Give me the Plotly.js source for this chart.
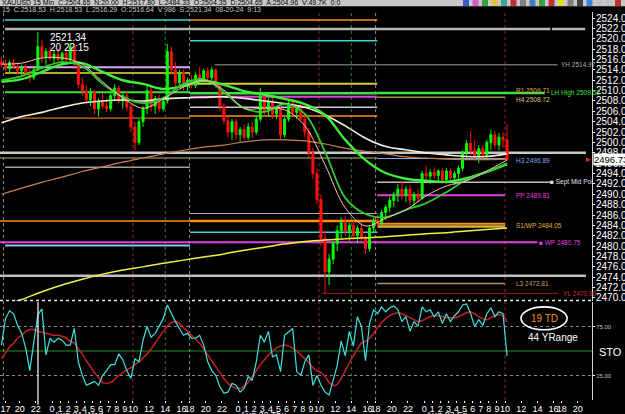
<!DOCTYPE html>
<html><head><meta charset="utf-8">
<script src="https://cdn.plot.ly/plotly-3.0.1.min.js"></script>
<style>html,body{margin:0;padding:0;background:#000;}#chart{width:625px;height:414px;}</style>
</head><body><div id="chart"></div>
<script>
// ---------------- DATA ----------------
// 30-minute bars; time axis in trading hours relative to Aug 21 00:00 (17:00 break skipped)
const firstBarHour = -6.25;
const barHours = 0.5;

const open = [2515.5,2515.0,2514.2,2515.4,2514.6,2513.8,2514.5,2513.4,2512.5,2514.0,
2518.5,2516.5,2517.6,2516.2,2517.0,2516.0,2517.2,2516.0,2518.5,2515.0,
2511.2,2510.0,2508.2,2509.8,2506.5,2508.0,2507.0,2506.5,2509.0,2510.5,
2508.0,2509.0,2506.8,2503.0,2500.0,2504.0,2506.5,2510.0,2507.0,2508.5,
2506.5,2508.0,2517.5,2514.0,2511.5,2513.5,2510.8,2512.0,2511.0,2513.0,
2512.0,2513.8,2512.5,2514.0,2511.0,2507.0,2504.2,2502.0,2504.0,2501.5,
2502.5,2501.0,2503.0,2502.0,2504.5,2509.0,2506.0,2508.0,2505.5,2506.5,
2501.5,2504.5,2507.5,2505.8,2506.5,2504.5,2502.0,2498.0,2494.0,2489.0,
2481.5,2475.0,2477.5,2480.5,2483.0,2484.5,2482.8,2484.0,2482.0,2483.5,
2481.5,2479.5,2483.5,2485.0,2484.5,2486.5,2487.5,2488.8,2490.0,2491.0,
2489.8,2491.0,2488.8,2490.0,2489.2,2494.0,2493.5,2494.2,2493.6,2494.5,
2492.8,2494.5,2493.2,2494.0,2495.0,2498.0,2499.8,2498.5,2497.2,2498.8,
2497.5,2500.0,2501.5,2499.5,2501.0,2500.5];
const high = [2516.5,2516.0,2515.8,2516.2,2515.5,2515.0,2515.2,2514.2,2514.5,2521.3,
2519.8,2518.2,2518.5,2517.8,2518.0,2517.5,2518.0,2519.2,2519.0,2515.5,
2512.5,2511.0,2510.5,2510.2,2508.5,2509.5,2508.5,2509.5,2511.2,2511.0,
2509.5,2510.0,2507.5,2504.0,2504.5,2507.0,2511.0,2511.0,2509.0,2509.2,
2508.5,2519.0,2518.5,2515.5,2514.0,2514.0,2512.5,2513.0,2513.5,2514.5,
2514.2,2514.5,2514.6,2514.3,2511.5,2507.5,2505.0,2504.5,2504.5,2503.0,
2503.5,2503.8,2504.0,2505.0,2510.5,2509.5,2508.5,2508.8,2507.0,2507.0,
2505.0,2508.0,2508.2,2507.0,2507.5,2505.5,2502.8,2499.0,2495.0,2490.0,
2483.0,2478.5,2481.0,2484.0,2485.5,2485.8,2484.5,2484.8,2484.0,2484.5,
2482.0,2484.0,2485.5,2486.0,2487.0,2488.0,2489.5,2490.5,2492.0,2492.5,
2491.5,2491.8,2490.5,2491.0,2494.5,2495.5,2494.8,2495.2,2494.8,2495.0,
2495.0,2495.0,2494.5,2495.5,2498.5,2500.5,2502.2,2500.5,2499.5,2499.5,
2500.5,2502.5,2502.2,2501.8,2502.0,2503.5];
const low = [2514.5,2513.8,2513.5,2514.2,2513.2,2512.8,2513.0,2511.6,2512.0,2513.8,
2515.5,2515.0,2515.8,2515.2,2515.6,2514.8,2515.5,2515.6,2514.5,2510.5,
2509.0,2507.5,2507.0,2505.5,2505.0,2506.5,2505.8,2506.0,2508.0,2507.5,
2506.5,2506.0,2502.0,2498.5,2499.5,2503.0,2505.5,2506.0,2505.5,2505.8,
2506.0,2507.5,2513.0,2510.5,2511.0,2510.0,2509.8,2510.5,2510.5,2511.5,
2511.5,2512.0,2512.0,2510.5,2506.0,2503.5,2501.0,2500.5,2500.5,2500.2,
2500.5,2500.5,2500.8,2501.5,2504.0,2505.0,2505.0,2504.5,2504.5,2500.5,
2501.0,2504.0,2505.0,2504.5,2504.0,2501.0,2497.0,2493.0,2488.0,2480.0,
2470.9,2472.5,2476.5,2479.0,2481.5,2482.0,2481.0,2481.2,2480.5,2481.0,
2478.5,2479.0,2482.5,2483.5,2484.0,2485.0,2486.5,2487.5,2488.5,2489.0,
2488.5,2488.0,2487.5,2488.5,2489.0,2492.5,2492.0,2493.0,2492.5,2492.0,
2492.0,2492.5,2491.8,2493.0,2494.5,2497.0,2497.5,2496.5,2496.0,2496.5,
2497.0,2498.5,2498.8,2498.5,2499.0,2496.5];
const close = [2515.0,2514.2,2515.4,2514.6,2513.8,2514.5,2513.4,2512.5,2514.0,2518.5,
2516.5,2517.6,2516.2,2517.0,2516.0,2517.2,2516.0,2518.5,2515.0,2511.2,
2510.0,2508.2,2509.8,2506.5,2508.0,2507.0,2506.5,2509.0,2510.5,2508.0,
2509.0,2506.8,2503.0,2500.0,2504.0,2506.5,2510.0,2507.0,2508.5,2506.5,
2508.0,2517.5,2514.0,2511.5,2513.5,2510.8,2512.0,2511.0,2513.0,2512.0,
2513.8,2512.5,2514.0,2511.0,2507.0,2504.2,2502.0,2504.0,2501.5,2502.5,
2501.0,2503.0,2502.0,2504.5,2509.0,2506.0,2508.0,2505.5,2506.5,2501.5,
2504.5,2507.5,2505.8,2506.5,2504.5,2502.0,2498.0,2494.0,2489.0,2481.5,
2475.0,2477.5,2480.5,2483.0,2484.5,2482.8,2484.0,2482.0,2483.5,2481.5,
2479.5,2483.5,2485.0,2484.5,2486.5,2487.5,2488.8,2490.0,2491.0,2489.8,
2491.0,2488.8,2490.0,2489.2,2494.0,2493.5,2494.2,2493.6,2494.5,2492.8,
2494.5,2493.2,2494.0,2495.0,2498.0,2499.8,2498.5,2497.2,2498.8,2497.5,
2500.0,2501.5,2499.5,2501.0,2500.5,2496.73];

// moving averages sampled every 5 bars
const maBar = [0,5,10,15,20,25,30,35,40,45,50,55,60,65,70,75,80,85,90,95,100,105,110,115,120,125];
const maWhite = [2503.8,2505.0,2505.8,2506.8,2507.6,2508.0,2508.2,2508.0,2508.4,2508.6,2508.7,2508.8,2508.5,2508.0,2507.5,2506.8,2505.3,2503.2,2500.8,2499.2,2498.6,2498.0,2497.6,2497.3,2497.3,2497.8];
const maOrange = [2490.0,2491.2,2492.3,2493.3,2494.4,2495.3,2496.2,2497.0,2497.8,2498.5,2499.1,2499.5,2500.1,2500.5,2500.5,2500.3,2499.7,2498.9,2498.3,2497.8,2497.2,2497.0,2496.8,2496.7,2496.7,2496.8];
const maYellow = [2468.5,2469.7,2471.2,2472.5,2473.6,2474.6,2475.4,2476.0,2476.7,2477.3,2477.9,2478.5,2479.2,2479.8,2480.4,2480.9,2481.2,2481.4,2481.6,2481.8,2482.1,2482.4,2482.6,2482.9,2483.2,2483.5];
const maGreenSlow = [2511.7,2512.2,2513.6,2515.1,2515.3,2513.6,2512.0,2511.3,2510.3,2510.9,2511.9,2511.1,2509.9,2509.2,2508.4,2507.4,2505.3,2500.5,2496.6,2494.1,2493.0,2492.6,2492.4,2493.1,2494.3,2495.8];
const maGreenFast = [2512.0,2512.8,2514.4,2515.5,2514.7,2511.3,2508.8,2507.6,2508.6,2511.3,2512.2,2509.7,2506.6,2505.9,2507.4,2505.5,2498.2,2489.3,2486.2,2485.6,2487.0,2488.3,2490.4,2492.8,2494.3,2496.0];
const maPink = [2515.1,2515.3,2516.3,2516.3,2515.1,2511.7,2508.6,2506.6,2508.4,2510.7,2512.0,2510.1,2506.6,2506.6,2506.3,2503.2,2495.7,2487.4,2483.9,2485.4,2487.0,2489.7,2491.6,2492.6,2494.5,2496.6];

// stochastic (one value per bar)
const stochK = [56,83,91,88,76,68,53,30,59,87,
93,46,63,59,63,61,56,56,73,39,
25,15,17,19,15,25,30,36,36,47,
41,30,22,42,39,61,75,64,68,76,
83,97,88,80,73,66,68,63,63,66,
56,39,30,25,13.5,7,8,17,15,8,
12,24,20,39,66,59,70,44,46,29,
66,70,73,29,25,39,46,15,25,15,
8,5,20,35,60,45,70,55,85,75,
40,78,92,88,95,90,94,96,92,80,
85,70,80,75,95,90,92,85,90,78,
88,80,86,90,97,98,88,75,82,76,
88,94,85,90,88,45];
const stochD = [42,48,54,58,63,66,70,72,72,70,
69,68,67,66,66,65,63,60,58,52,
47,40,34,28,23,18,17,18,21,25,
28,31,33,36,39,43,47,52,58,64,
70,75,79,80,78,74,70,66,62,58,
52,46,40,34,28,22,17,14,12,12,
14,18,24,30,36,41,46,50,53,55,
56,55,53,50,46,42,38,33,30,28,
24,18,15,16,22,30,38,45,52,58,
60,63,68,74,79,83,86,88,89,88,
86,84,82,80,81,83,85,86,86,85,
84,84,84,85,87,89,90,88,85,83,
82,84,86,87,86,80];

// horizontal levels: price, from hour, to hour
const levelPrice = [2523.6,2514.5,2513.4,2509.7,2504.7,2495.2,2484.85,2480.1,
  2523.6,2519.6,2511.3,2509.5,2508.8,2506.8,2505.1,2486.3,2484.85,2482.7,
  2509.52,2508.72,2496.89,2492.3,2489.81,2484.3,2483.8,2472.81,
  2521.9,2521.9,2498.0,2497.0,2480.75,2474.3,2514.97,2470.9];
const levelFrom = [-5.8,-5.8,-5.8,-5.8,-5.8,-5.8,-6.5,-5.8,
  17.06,17.06,17.06,17.06,17.06,17.06,17.06,17.06,17.06,17.06,
  40.2,40.2,40.2,40.2,40.2,40.2,40.2,40.2,
  -5.8,61.8,-7,-7,-7,-7,20.1,33.4];
const levelTo = [17.06,17.06,17.06,17.06,17.06,17.06,17.06,17.06,
  40.2,40.2,40.2,40.2,40.2,40.2,40.2,40.2,40.2,40.2,
  60.9,56,56,61.6,56,56,56,56,
  61.6,65.9,66,40.2,60,66,62.5,62.6];
const levelColor = ['#3fd6d0','#d8a8f0','#e8e830','#3ee03e','#ff9020','#a0a0a0','#ff8c1a','#80c8e8',
  '#ff9020','#3fd6d0','#d8d030','#3ee03e','#e040e0','#d0c8d8','#ff9020','#b8a8c8','#ff8c1a','#40d0d0',
  '#3ee03e','#a09040','#80b0ff','#c0c0c0','#e040e0','#ff8c1a','#d8b040','#b09060',
  '#b8b8b8','#b8b8b8','#c8c8c8','#7a7a50','#e040e0','#c0c0c0','#a0a0a0','#a02020'];
const levelWidth = [1.5,2,1.5,2,1,1.5,1.5,2,
  1.5,1.5,2,2.5,2,1.5,1.5,1,2.5,1.5,
  2.5,1.5,1,1.5,2,2,2.5,1.5,
  2.5,2.5,2.5,1.5,2,2.5,1,1];

// labels of today's levels
const labelText = ['R1 2509.71','H4 2508.72','LH High 2509.52','YH 2514.97','H3 2496.89','\u25A0 Sept Mid Poi','PP 2489.81','S1/WP 2484.05','\u25A0 WP 2480.75','L3 2472.81','YL 2470.90'];
const labelPrice = [2510.0,2508.3,2509.6,2514.97,2496.6,2492.3,2489.81,2484.05,2480.75,2472.81,2470.9];
const labelHour = [57.1,57.1,61.4,62.7,57.1,61.3,57.1,57.1,59.9,57.1,62.9];
const labelColor = ['#e0a040','#d8c890','#40e040','#b0b0b0','#80a8ff','#e0e0e0','#e040e0','#e0b040','#e040e0','#c0a060','#d03030'];

// x-axis hour ticks per day
const dayTickHour = [0,1,2,3,4,5,6,7,8,9,10,12,14,16,17,19,21];
const dayTickText = ['0','1','2','3','4','5','6','7','8','9','10','12','14','16','18','20','22'];
const preTickHour = [-5.75,-4,-2];
const preTickText = ['17','20','22'];
const dayStartHour = [0,23,46];
const dayName = ['Aug 21 Wed','Aug 22 Thu','Aug 23 Fri'];

// vertical session marks (hours) and kind
const vlineHour = [-6,10,14,17,33,37,40,56];
const vlineKind = ['w','r','g','w','r','g','w','r'];

const lastPrice = 2496.73;

// ---------------- BUILD ----------------
const FONT = 'Liberation Sans, Arial, sans-serif';
const idx = h => (h - firstBarHour) / barHours;
const bars = close.map((_, i) => i);

const traces = [];
traces.push({type:'candlestick', x:bars, open:open, high:high, low:low, close:close,
  xaxis:'x', yaxis:'y', whiskerwidth:0,
  increasing:{line:{color:'#00ff00', width:1}, fillcolor:'#00ff00'},
  decreasing:{line:{color:'#ff1010', width:1}, fillcolor:'#ff1010'},
  hoverinfo:'skip'});
function ma(y, color, w) {
  traces.push({type:'scatter', mode:'lines', x:maBar, y:y, xaxis:'x', yaxis:'y',
    line:{color:color, width:w, shape:'spline', smoothing:1}, hoverinfo:'skip'});
}
ma(maYellow, '#f0f040', 1.5);
ma(maOrange, '#c88048', 1.2);
ma(maWhite, '#f4f0d8', 1.6);
ma(maGreenSlow, '#3cf03c', 2.4);
ma(maGreenFast, '#30c830', 1.8);
ma(maPink, '#ffc0b8', 1);

traces.push({type:'scatter', mode:'lines', x:bars, y:stochD, xaxis:'x', yaxis:'y2',
  line:{color:'#c81e28', width:1.5, shape:'spline'}, hoverinfo:'skip'});
traces.push({type:'scatter', mode:'lines', x:bars, y:stochK, xaxis:'x', yaxis:'y2',
  line:{color:'#40e0e0', width:1.2}, hoverinfo:'skip'});

const shapes = [];
levelPrice.forEach((p, k) => {
  shapes.push({type:'line', xref:'x', yref:'y', x0:idx(levelFrom[k]), x1:idx(levelTo[k]), y0:p, y1:p,
    line:{color:levelColor[k], width:levelWidth[k]}, layer:'below'});
});
const vcol = {r:'#8a3030', g:'#2f7f2f', w:'#8a8a8a'};
vlineHour.forEach((h, k) => {
  shapes.push({type:'line', xref:'x', yref:'paper', x0:idx(h), x1:idx(h), y0:0, y1:1,
    line:{color:vcol[vlineKind[k]], width:1, dash:'dot'}, layer:'below'});
});
[25, 75].forEach(v => shapes.push({type:'line', xref:'paper', yref:'y2', x0:0, x1:1, y0:v, y1:v,
  line:{color:'#8a8a8a', width:1, dash:'dot'}, layer:'below'}));
shapes.push({type:'line', xref:'paper', yref:'y2', x0:0, x1:1, y0:50, y1:50,
  line:{color:'#1f8f1f', width:1.2}, layer:'below'});
shapes.push({type:'line', xref:'paper', yref:'paper', x0:0, x1:1, y0:0.2565, y1:0.2565,
  line:{color:'#e8e8e8', width:1.5, dash:'dot'}});
shapes.push({type:'line', xref:'x', yref:'paper', x0:9.03, x1:9.03, y0:-0.012, y1:0.2526,
  line:{color:'#ffffff', width:1.2}});
shapes.push({type:'circle', xref:'paper', yref:'paper', x0:0.880, x1:0.958, y0:0.181, y1:0.240,
  line:{color:'#ffffff', width:1.6}});
shapes.push({type:'rect', xref:'paper', yref:'paper', x0:0, x1:1.06, y0:1.0145, y1:1.04,
  fillcolor:'#c8c8c8', line:{width:0}});
const iconCols = ['#3060c0','#d060c0','#40a040','#e0c040','#40a0a0','#c03030','#808080','#4080c0','#40a040','#c03030','#e0e020','#808080','#404040','#4080e0','#c0c0c0','#c0c0c0','#c03030'];
iconCols.forEach((c, k) => {
  const x0 = (463 + k * 9.5) / 592;
  shapes.push({type:'rect', xref:'paper', yref:'paper', x0:x0, x1:x0 + 6/592, y0:1.0155, y1:1.031,
    fillcolor:c, line:{width:0}});
});

const ann = [];
labelText.forEach((t, k) => ann.push({xref:'x', yref:'y', x:idx(labelHour[k]), y:labelPrice[k], text:t,
  showarrow:false, xanchor:'left', yanchor:'middle', font:{family:FONT, size:6.5, color:labelColor[k]}}));
ann.push({xref:'paper', yref:'y', x:1.0017, y:lastPrice, text:lastPrice.toFixed(2), showarrow:false,
  xanchor:'left', yanchor:'middle', bgcolor:'#ffffff', borderpad:0, font:{family:FONT, size:9.5, color:'#000'}});
ann.push({xref:'paper', yref:'y', x:0.9935, y:lastPrice, text:'\u25B8', showarrow:false,
  xanchor:'center', yanchor:'middle', font:{family:FONT, size:9, color:'#ff2020'}});
ann.push({xref:'x', yref:'y', x:11.6, y:2520.2, text:'2521.34', showarrow:false, xanchor:'left', yanchor:'middle',
  font:{family:FONT, size:10, color:'#ffffff'}});
ann.push({xref:'x', yref:'y', x:11.6, y:2518.4, text:'20 22:15', showarrow:false, xanchor:'left', yanchor:'middle',
  font:{family:FONT, size:10, color:'#ffffff'}});
ann.push({xref:'paper', yref:'paper', x:0.9206, y:0.2113, text:'19 TD', showarrow:false, xanchor:'center', yanchor:'middle',
  font:{family:FONT, size:10, color:'#ff8a20'}});
ann.push({xref:'paper', yref:'paper', x:0.934, y:0.160, text:'44 YRange', showarrow:false, xanchor:'center', yanchor:'middle',
  font:{family:FONT, size:10, color:'#ffffff'}});
ann.push({xref:'paper', yref:'y2', x:1.0084, y:49, text:'STO  24', showarrow:false, xanchor:'left', yanchor:'middle',
  font:{family:FONT, size:11, color:'#ffffff'}});
ann.push({xref:'paper', yref:'paper', x:0, y:1.024, text:'XAUUSD 15 Min  C:2504.65  N:20.00  H:2517.80  L:2484.33  O:2504.35  D:2504.65  A:2504.96  V:49.7K  0:0',
  showarrow:false, xanchor:'left', yanchor:'middle', font:{family:FONT, size:7, color:'#000'}});
ann.push({xref:'paper', yref:'paper', x:0, y:1.0055, text:'15  C:2518.53  H:2518.53  L:2516.29  O:2516.64  V:986  S:2521.34  08-20-24  9:13',
  showarrow:false, xanchor:'left', yanchor:'middle', font:{family:FONT, size:7, color:'#c8c8c8'}});
dayName.forEach((d, k) => ann.push({xref:'x', yref:'paper', x:idx(dayStartHour[k]), y:-0.0195, text:d,
  showarrow:false, xanchor:'left', yanchor:'top', font:{family:FONT, size:9, color:'#ffffff'}}));

const tickvals = preTickHour.map(idx), ticktext = preTickText.slice();
dayStartHour.forEach(d => dayTickHour.forEach((h, k) => { tickvals.push(idx(d + h)); ticktext.push(dayTickText[k]); }));
const priceTicks = [];
for (let p = 2470; p <= 2524; p += 2) priceTicks.push(p);

const layout = {
  width:625, height:414, paper_bgcolor:'#000', plot_bgcolor:'#000', showlegend:false,
  margin:{l:0, r:33, t:12, b:14, pad:0},
  font:{family:FONT, color:'#fff'},
  xaxis:{domain:[0,1], range:[-0.36,146], anchor:'y2', tickmode:'array', tickvals:tickvals, ticktext:ticktext,
    tickangle:0, tickfont:{family:FONT, size:9, color:'#fff'}, ticks:'outside', ticklen:2, tickcolor:'#fff',
    ticklabelstandoff:-2,
    showgrid:false, zeroline:false, showline:false, rangeslider:{visible:false}, fixedrange:true},
  yaxis:{domain:[0.2552,1], range:[2469.42,2525.16], side:'right', anchor:'x', tickmode:'array',
    tickvals:priceTicks, ticktext:priceTicks.map(p => p.toFixed(2)),
    tickfont:{family:FONT, size:10, color:'#fff'}, ticks:'outside', ticklen:2, tickcolor:'#fff',
    ticklabelstandoff:-1,
    showline:true, linecolor:'#d0d0d0', linewidth:1, showgrid:false, zeroline:false},
  yaxis2:{domain:[0,0.2526], range:[0,100], side:'right', anchor:'x', tickmode:'array',
    tickvals:[25,75], ticktext:['25.00','75.00'], tickfont:{family:FONT, size:6, color:'#c0c0c0'},
    ticks:'outside', ticklen:2, tickcolor:'#fff', showline:true, linecolor:'#d0d0d0', linewidth:1,
    showgrid:false, zeroline:false},
  shapes:shapes, annotations:ann
};
Plotly.newPlot('chart', traces, layout, {staticPlot:true, displayModeBar:false});
</script></body></html>
